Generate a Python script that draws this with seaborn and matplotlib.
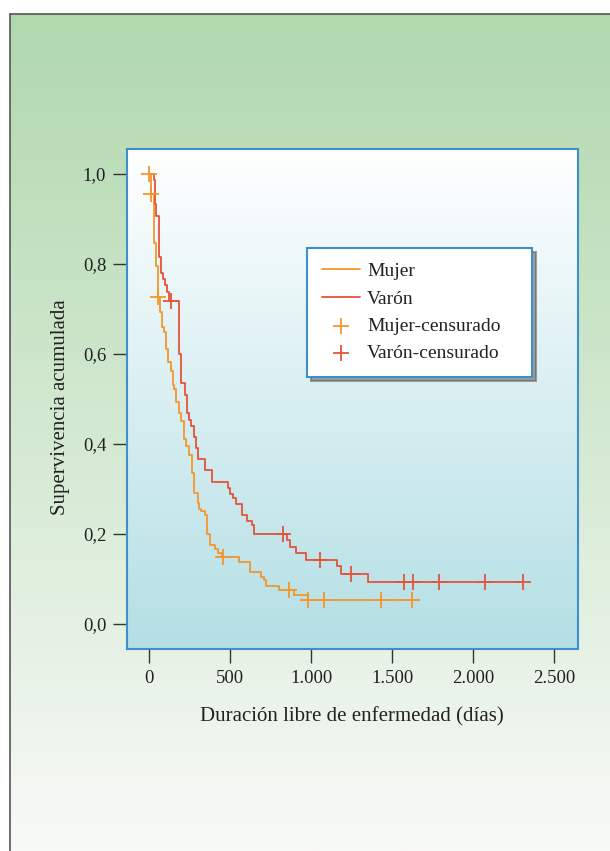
import numpy as np
import pandas as pd
import matplotlib
matplotlib.use("Agg")
import matplotlib.pyplot as plt
from matplotlib.lines import Line2D
import seaborn as sns

# ---------------- data ----------------
mujer_t = [0, 8, 29, 43, 55, 66, 78, 94, 105, 115, 134, 144, 154, 166, 181, 195,
           213, 226, 245, 263, 279, 298, 310, 319, 345, 358, 372, 403, 422, 448,
           551, 623, 690, 709, 721, 801, 896, 978, 1623]
mujer_s = [1.0, 0.956, 0.847, 0.796, 0.727, 0.694, 0.661, 0.648, 0.611, 0.583,
           0.562, 0.531, 0.522, 0.494, 0.468, 0.451, 0.412, 0.395, 0.376, 0.336,
           0.290, 0.269, 0.255, 0.252, 0.243, 0.199, 0.175, 0.166, 0.157, 0.148,
           0.138, 0.115, 0.105, 0.098, 0.084, 0.076, 0.064, 0.053, 0.053]
mujer_cens_t = [0, 10, 57, 454, 865, 978, 1078, 1431, 1623]
mujer_cens_s = [1.0, 0.956, 0.727, 0.148, 0.076, 0.053, 0.053, 0.053, 0.053]

varon_t = [0, 27, 33, 43, 60, 70, 86, 100, 111, 121, 181, 195, 222, 232, 248,
           259, 277, 290, 304, 345, 387, 489, 499, 518, 536, 573, 602, 637, 647,
           853, 869, 906, 966, 1157, 1184, 1348, 2308]
varon_s = [1.0, 0.986, 0.934, 0.907, 0.816, 0.780, 0.766, 0.753, 0.738, 0.718,
           0.600, 0.536, 0.510, 0.469, 0.453, 0.440, 0.416, 0.392, 0.367, 0.342,
           0.315, 0.302, 0.289, 0.279, 0.266, 0.243, 0.228, 0.219, 0.200, 0.187,
           0.172, 0.158, 0.142, 0.129, 0.111, 0.094, 0.094]
varon_cens_t = [136, 826, 1054, 1245, 1572, 1626, 1790, 2070, 2308]
varon_cens_s = [0.718, 0.200, 0.142, 0.111, 0.094, 0.094, 0.094, 0.094, 0.094]

x_ticks = [0, 500, 1000, 1500, 2000, 2500]
x_tick_labels = ["0", "500", "1.000", "1.500", "2.000", "2.500"]
y_ticks = [0.0, 0.2, 0.4, 0.6, 0.8, 1.0]
y_tick_labels = ["0,0", "0,2", "0,4", "0,6", "0,8", "1,0"]

series_names = ["Mujer", "Varón", "Mujer-censurado", "Varón-censurado"]
x_label = "Duración libre de enfermedad (días)"
y_label = "Supervivencia acumulada"

# ---------------- style ----------------
sns.set_theme(style="white")
plt.rcParams["font.family"] = ["Liberation Serif", "DejaVu Serif"]
ORANGE = "#f5962a"
RED = "#e4533a"
BLUE = "#3f8fca"
TXT = "#222222"

W, H = 610, 851
fig = plt.figure(figsize=(W / 100, H / 100), dpi=100)
fig.patch.set_facecolor("white")

# page background gradient (green -> almost white)
bg = fig.add_axes([0, 0, 1, 1], zorder=-10)
bg.set_axis_off()
c_top = np.array(matplotlib.colors.to_rgb("#b0d8ad"))
c_bot = np.array(matplotlib.colors.to_rgb("#f8faf7"))
g = np.linspace(0, 1, 256)[:, None]
grad = c_top[None, None, :] * (1 - g[..., None]) + c_bot[None, None, :] * g[..., None]
x0f, y1f = 10 / W, 1 - 14 / H
bg.imshow(grad, extent=[x0f, 1, 0, y1f], aspect="auto", transform=bg.transAxes,
          interpolation="bilinear")
bg.set_xlim(0, 1)
bg.set_ylim(0, 1)
bg.add_line(Line2D([x0f, x0f], [0, y1f], color="#555555", lw=1.2, transform=bg.transAxes))
bg.add_line(Line2D([x0f, 1], [y1f, y1f], color="#555555", lw=1.2, transform=bg.transAxes))

# main axes
ax_l, ax_r, ax_t, ax_b = 127, 577.5, 149, 649
ax = fig.add_axes([ax_l / W, 1 - ax_b / H, (ax_r - ax_l) / W, (ax_b - ax_t) / H])
ax.set_facecolor("none")
ca = np.array(matplotlib.colors.to_rgb("#ffffff"))
cb = np.array(matplotlib.colors.to_rgb("#b3dfe5"))
grad2 = ca[None, None, :] * (1 - g[..., None]) + cb[None, None, :] * g[..., None]
ax.imshow(grad2, extent=[0, 1, 0, 1], aspect="auto", transform=ax.transAxes,
          zorder=0, interpolation="bilinear")

df_m = pd.DataFrame({"t": mujer_t, "s": mujer_s})
df_v = pd.DataFrame({"t": varon_t, "s": varon_s})
df_mc = pd.DataFrame({"t": mujer_cens_t, "s": mujer_cens_s})
df_vc = pd.DataFrame({"t": varon_cens_t, "s": varon_cens_s})

sns.lineplot(data=df_m, x="t", y="s", ax=ax, color=ORANGE, lw=1.3,
             drawstyle="steps-post", estimator=None, sort=False, label=series_names[0], zorder=3)
sns.lineplot(data=df_v, x="t", y="s", ax=ax, color=RED, lw=1.3,
             drawstyle="steps-post", estimator=None, sort=False, label=series_names[1], zorder=3)
sns.scatterplot(data=df_mc, x="t", y="s", ax=ax, color=ORANGE, marker="+", s=130,
                linewidth=1.3, label=series_names[2], zorder=4)
sns.scatterplot(data=df_vc, x="t", y="s", ax=ax, color=RED, marker="+", s=130,
                linewidth=1.3, label=series_names[3], zorder=4)

ax.set_xlim(-137, 2642)
ax.set_ylim(-0.0556, 1.0556)
ax.set_xticks(x_ticks)
ax.set_xticklabels(x_tick_labels)
ax.set_yticks(y_ticks)
ax.set_yticklabels(y_tick_labels)
ax.tick_params(axis="both", which="major", direction="out", length=10, width=1.0,
               color="#333333", labelsize=13.5, labelcolor=TXT, pad=5,
               bottom=True, left=True)
for sp in ax.spines.values():
    sp.set_color(BLUE)
    sp.set_linewidth(1.5)
    sp.set_visible(True)

ax.set_xlabel(x_label, fontsize=15, color=TXT)
ax.set_ylabel(y_label, fontsize=15, color=TXT)
ax.xaxis.set_label_coords(0.5, -0.116)
ax.yaxis.set_label_coords(-0.127, 0.484)

lx0 = (307 - ax_l) / (ax_r - ax_l)
lw_ = (532 - 307) / (ax_r - ax_l)
ly1 = (ax_b - 248) / (ax_b - ax_t)
lh_ = (376 - 248) / (ax_b - ax_t)
leg = ax.legend(loc="upper left", bbox_to_anchor=(lx0, ly1 - lh_, lw_, lh_), mode="expand",
                borderaxespad=0, frameon=True, fontsize=14, handlelength=2.0,
                handletextpad=0.35, labelspacing=0.5, borderpad=0.75,
                fancybox=False, shadow={"color": "0.35", "alpha": 0.55, "ox": 3, "oy": -3})
leg.get_frame().set_edgecolor(BLUE)
leg.get_frame().set_linewidth(1.5)
leg.get_frame().set_facecolor("white")
leg.get_frame().set_alpha(1)
for t in leg.get_texts():
    t.set_color(TXT)

fig.savefig("out.png", dpi=100)
